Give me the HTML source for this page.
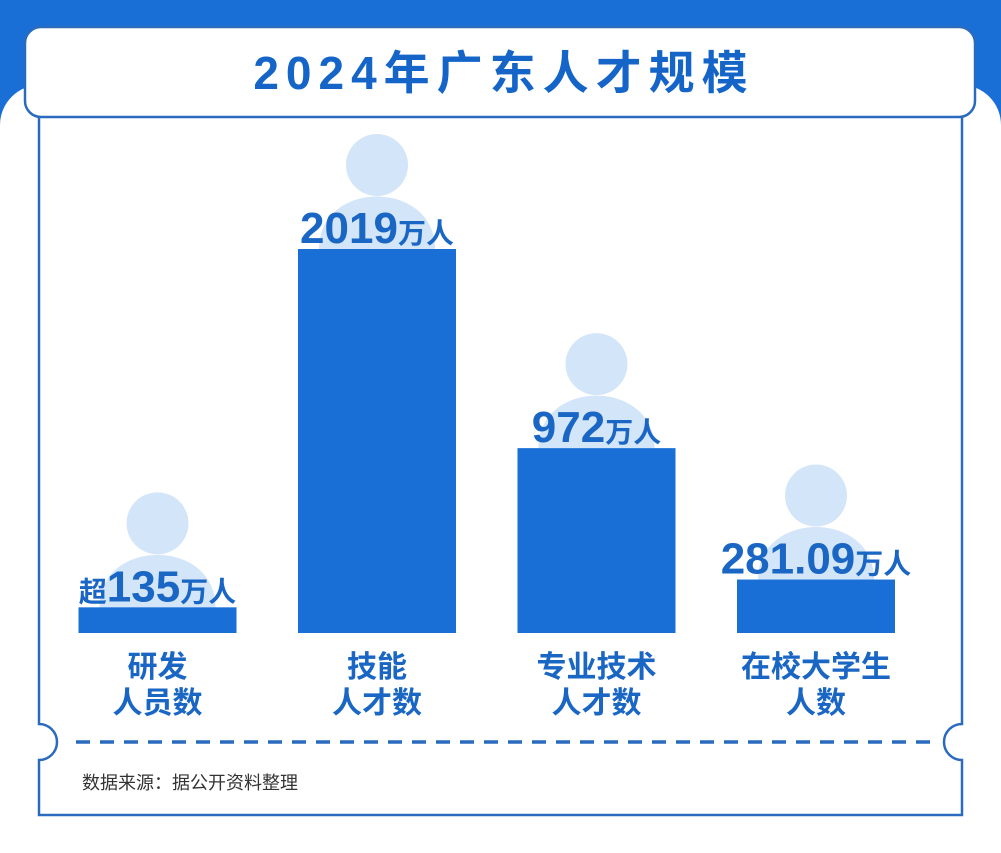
<!DOCTYPE html>
<html><head><meta charset="utf-8"><style>
body{margin:0;width:1001px;height:848px;overflow:hidden;background:#fff;font-family:"Liberation Sans","Noto Sans CJK SC",sans-serif;}
</style></head><body>
<svg width="1001" height="848" viewBox="0 0 1001 848" id="svg">
<rect x="0" y="0" width="1001" height="82" fill="#1a6fd6"/>
<rect x="0" y="82" width="1001" height="766" fill="#fff"/>
<rect x="0" y="82" width="60" height="60" fill="#1a6fd6"/>
<rect x="941" y="82" width="60" height="60" fill="#1a6fd6"/>
<rect x="0" y="85" width="1001" height="763" rx="40" fill="#fff"/>
<path d="M39,117 V724 A18,18 0 0 1 39,760 V815 H962 V760 A18,18 0 0 1 962,724 V117" fill="#fff" stroke="#2a6bbf" stroke-width="2.5"/>
<rect x="25" y="27" width="950" height="90" rx="16" fill="#fff" stroke="#2a6bbf" stroke-width="2.5"/>
<text x="504" y="89" text-anchor="middle" font-size="46" font-weight="bold" letter-spacing="7" fill="#1565c8">2024年广东人才规模</text>
<line x1="76" y1="742" x2="930" y2="742" stroke="#2a6bbf" stroke-width="3.5" stroke-dasharray="14,10"/>
<text x="82" y="789" font-size="18" fill="#333">数据来源：据公开资料整理</text>
<g id="bars"></g>
</svg>
<script>
const categories1 = ["研发","技能","专业技术","在校大学生"];
const categories2 = ["人员数","人才数","人才数","人数"];
const values = [135, 2019, 972, 281.09];
const valueLabels = ["135","2019","972","281.09"];
const prefixes = ["超","","",""];
const NS="http://www.w3.org/2000/svg";
const g=document.getElementById('bars');
const baseY=633, scale=384/2019;
function yScale(v){return baseY - v*scale;}
function xCenter(i){return 157.5 + i*219.5;}
function mk(t,a){const e=document.createElementNS(NS,t);for(const k in a)e.setAttribute(k,a[k]);g.appendChild(e);return e;}
values.forEach((v,i)=>{
  const cx=xCenter(i), top=yScale(v);
  const head=mk('circle',{cx:cx,cy:top-84,r:31,fill:'#d3e5f8'});
  
  
  const sh=mk('path',{d:`M${cx-58},${top} C${cx-58},${top-70} ${cx+58},${top-70} ${cx+58},${top} Z`,fill:'#d3e5f8'});
  
  
  const r=mk('rect',{x:cx-79,y:top,width:158,height:baseY-top,fill:'#1a6fd6'});
  
  
  const t=mk('text',{x:cx,y:top-6,'text-anchor':'middle',fill:'#1a66c4','font-weight':'bold'});
  
  
  t.innerHTML=(prefixes[i]?`<tspan font-size="28">${prefixes[i]}</tspan>`:'')+`<tspan font-size="44">${valueLabels[i]}</tspan><tspan font-size="28">万人</tspan>`;
  const c1=mk('text',{x:cx,y:677,'text-anchor':'middle','font-size':30,'font-weight':'bold',fill:'#1a66c4'});
  c1.textContent=categories1[i];
  
  
  const c2=mk('text',{x:cx,y:713,'text-anchor':'middle','font-size':30,'font-weight':'bold',fill:'#1a66c4'});
  c2.textContent=categories2[i];
  
  
});
</script>
</body></html>
